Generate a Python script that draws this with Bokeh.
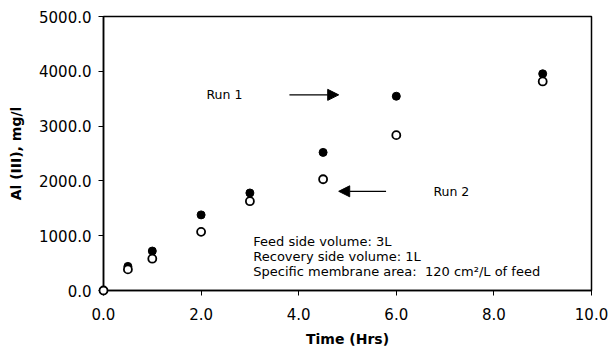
from bokeh.plotting import figure
from bokeh.models import (Arrow, NormalHead, Label, FixedTicker,
                          NumeralTickFormatter, ColumnDataSource)
from bokeh.embed import file_html
from bokeh.resources import INLINE

# Al(III) concentration on the recovery side vs time
time_hrs = [0.0, 0.5, 1.0, 2.0, 3.0, 4.5, 6.0, 9.0]
run1_al = [0.0, 440.0, 720.0, 1380.0, 1780.0, 2520.0, 3545.0, 3955.0]
run2_al = [0.0, 385.0, 580.0, 1070.0, 1630.0, 2030.0, 2835.0, 3815.0]

x_ticks = [0, 2, 4, 6, 8, 10]
y_ticks = [0, 1000, 2000, 3000, 4000, 5000]

# annotation positions (data units)
run1_arrow = dict(x_start=3.81, x_end=4.82, y=3570.0)
run2_arrow = dict(x_start=5.79, x_end=4.82, y=1810.0)
run1_text = dict(x=2.11, y=3570.0, text="Run 1")
run2_text = dict(x=6.76, y=1810.0, text="Run 2")
notes = ["Feed side volume: 3L",
         "Recovery side volume: 1L",
         "Specific membrane area:\u00a0\u00a0120 cm\u00b2/L of feed"]
notes_x = 3.07
notes_y = [900.0, 625.0, 350.0]

FONT = "DejaVu Sans"

p = figure(width=610, height=356, x_range=(0, 10), y_range=(0, 5000),
           output_backend="svg", toolbar_location=None,
           min_border_left=103, min_border_right=19,
           min_border_top=16, min_border_bottom=66)
p.background_fill_color = "white"
p.border_fill_color = "white"
p.outline_line_color = "black"
p.outline_line_width = 1.5
p.xgrid.visible = False
p.ygrid.visible = False

for ax in (p.xaxis[0], p.yaxis[0]):
    ax.axis_line_color = "black"
    ax.axis_line_width = 1.5
    ax.major_tick_line_color = "black"
    ax.major_tick_line_width = 1
    ax.major_tick_out = 5
    ax.major_tick_in = 0
    ax.minor_tick_line_color = None
    ax.major_label_text_font = FONT
    ax.major_label_text_font_size = "15px"
    ax.major_label_text_color = "black"
    ax.axis_label_text_font = FONT
    ax.axis_label_text_font_size = "14px"
    ax.axis_label_text_font_style = "bold"
    ax.axis_label_text_color = "black"
    ax.formatter = NumeralTickFormatter(format="0.0")

p.xaxis[0].ticker = FixedTicker(ticks=x_ticks)
p.yaxis[0].ticker = FixedTicker(ticks=y_ticks)
p.xaxis[0].axis_label = "Time (Hrs)"
p.yaxis[0].axis_label = "Al (III), mg/l"
p.xaxis[0].major_label_standoff = 12
p.yaxis[0].major_label_standoff = 7
p.xaxis[0].axis_label_standoff = 8
p.yaxis[0].axis_label_standoff = 12

src = ColumnDataSource(dict(t=time_hrs, r1=run1_al, r2=run2_al))
p.scatter("t", "r1", source=src, size=8, fill_color="black",
          line_color="black", line_width=1, level="overlay")
p.scatter("t", "r2", source=src, size=8, fill_color="white",
          line_color="black", line_width=1.8, level="overlay")

for a in (run1_arrow, run2_arrow):
    p.add_layout(Arrow(x_start=a["x_start"], y_start=a["y"],
                       x_end=a["x_end"], y_end=a["y"],
                       line_color="black", line_width=1.2,
                       end=NormalHead(size=11, fill_color="black",
                                      line_color="black", line_width=1)))

for t in (run1_text, run2_text):
    p.add_layout(Label(x=t["x"], y=t["y"], text=t["text"],
                       text_font=FONT, text_font_size="12.5px",
                       text_color="black", text_baseline="middle"))

for txt, ny in zip(notes, notes_y):
    p.add_layout(Label(x=notes_x, y=ny, text=txt,
                       text_font=FONT, text_font_size="13px",
                       text_color="black", text_baseline="middle"))

open("out.html", "w").write(file_html(p, INLINE))
